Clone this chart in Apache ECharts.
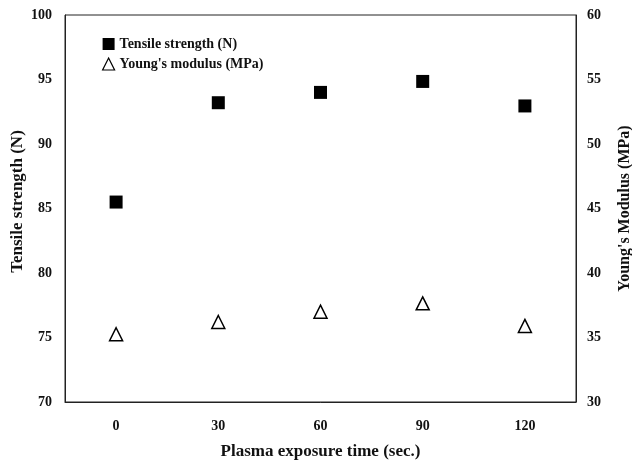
<!DOCTYPE html>
<html>
<head>
<meta charset="utf-8">
<script src="https://cdn.jsdelivr.net/npm/echarts@6/dist/echarts.min.js"></script>
<style>
html,body{margin:0;padding:0;background:#fff;}
#chart{width:632px;height:466px;}
</style>
</head>
<body>
<div id="chart"></div>
<script>
var times = [0, 30, 60, 90, 120];
var xTickLabels = [0, 30, 60, 90, 120];
var tensileStrength = [85.5, 93.2, 94.0, 94.85, 92.95];
var youngsModulus = [35.25, 36.2, 37.0, 37.65, 35.9];

var font = 'Liberation Serif';
var chart = echarts.init(document.getElementById('chart'));
chart.setOption({
  backgroundColor: '#fff',
  animation: false,
  grid: {left: 65, right: 56, top: 15, bottom: 64, containLabel: false, outerBoundsMode: 'none',
         show: true, borderColor: '#222', borderWidth: 1, backgroundColor: 'transparent'},
  legend: {
    orient: 'vertical', left: 97, top: 32, itemGap: 6, itemWidth: 12, itemHeight: 12,
    textStyle: {fontFamily: font, fontWeight: 'bold', fontSize: 14, color: '#111'},
    data: [
      {name: 'Tensile strength (N)', icon: 'rect', itemStyle: {color: '#000', opacity: 1}},
      {name: "Young's modulus (MPa)", icon: 'triangle', itemStyle: {color: '#fff', borderColor: '#000', borderWidth: 1.2, opacity: 1}}
    ]
  },
  xAxis: {
    type: 'value', min: -15, max: 135,
    name: 'Plasma exposure time (sec.)', nameLocation: 'middle', nameGap: 41,
    nameTextStyle: {fontFamily: font, fontWeight: 'bold', fontSize: 17, color: '#111'},
    axisLine: {show: true, onZero: false, lineStyle: {color: '#222'}},
    axisTick: {show: false},
    splitLine: {show: false},
    axisLabel: {customValues: xTickLabels, margin: 17, fontFamily: font, fontWeight: 'bold', fontSize: 14, color: '#111'}
  },
  yAxis: [
    {
      type: 'value', min: 70, max: 100, interval: 5,
      name: 'Tensile strength (N)', nameLocation: 'middle', nameGap: 39, nameRotate: 90,
      nameMoveOverlap: false,
      nameTextStyle: {fontFamily: font, fontWeight: 'bold', fontSize: 17, color: '#111', padding: [0, 0, 0, 14]},
      axisLine: {show: true, onZero: false, lineStyle: {color: '#222'}},
      axisTick: {show: false},
      splitLine: {show: false},
      axisLabel: {margin: 13, fontFamily: font, fontWeight: 'bold', fontSize: 14, color: '#111'}
    },
    {
      type: 'value', min: 30, max: 60, interval: 5, position: 'right',
      name: "Young's Modulus (MPa)", nameLocation: 'middle', nameGap: 41, nameRotate: 90,
      nameTextStyle: {fontFamily: font, fontWeight: 'bold', fontSize: 16, color: '#111'},
      axisLine: {show: true, onZero: false, lineStyle: {color: '#222'}},
      axisTick: {show: false},
      splitLine: {show: false},
      axisLabel: {margin: 11, fontFamily: font, fontWeight: 'bold', fontSize: 14, color: '#111'}
    }
  ],
  series: [
    {
      name: 'Tensile strength (N)', type: 'scatter', yAxisIndex: 0,
      symbol: 'rect', symbolSize: 13,
      itemStyle: {color: '#000', opacity: 1},
      data: times.map(function (t, i) { return [t, tensileStrength[i]]; })
    },
    {
      name: "Young's modulus (MPa)", type: 'scatter', yAxisIndex: 1,
      symbol: 'triangle', symbolSize: 13,
      itemStyle: {color: '#fff', borderColor: '#000', borderWidth: 1.5, opacity: 1},
      data: times.map(function (t, i) { return [t, youngsModulus[i]]; })
    }
  ]
});
</script>
</body>
</html>
